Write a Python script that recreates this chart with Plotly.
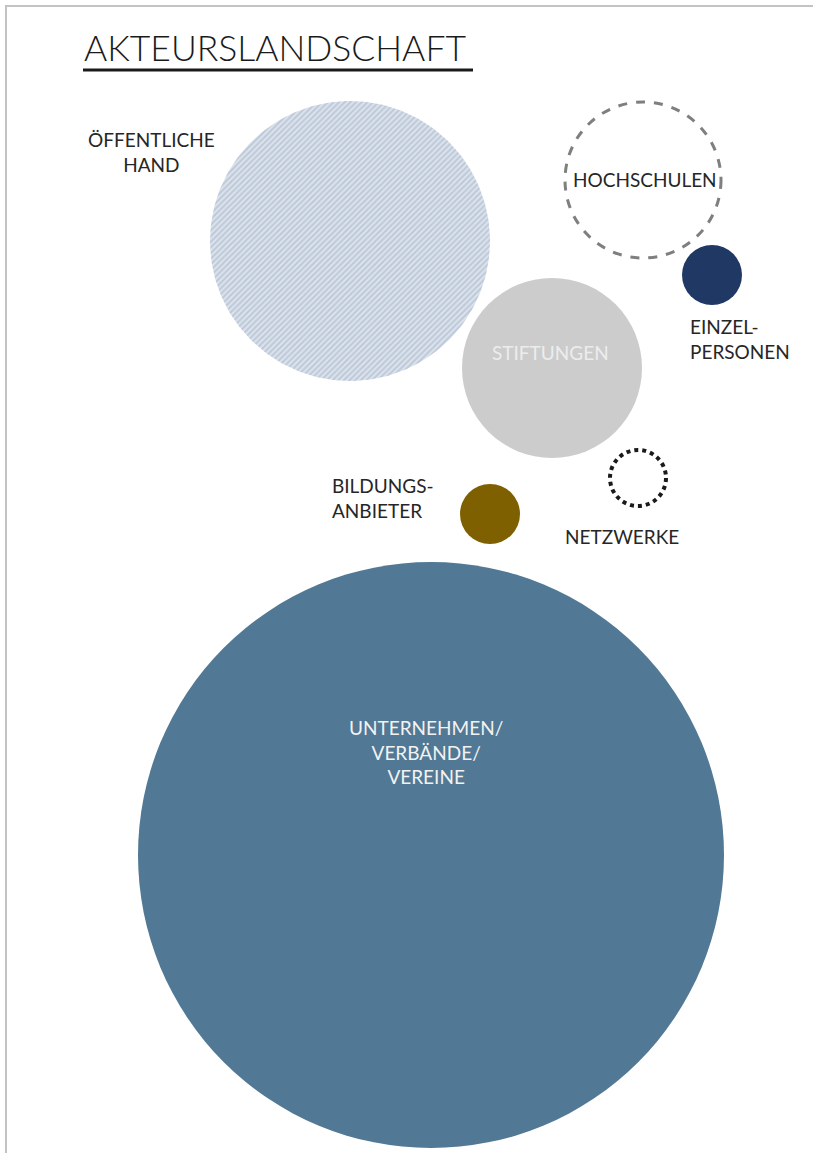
import numpy as np
import plotly.graph_objects as go

# ---- data ----
actors = ["Öffentliche Hand", "Hochschulen", "Einzelpersonen", "Stiftungen",
          "Bildungsanbieter", "Netzwerke", "Unternehmen/Verbände/Vereine"]
radii = [140, 78, 30, 90, 30, 28, 293]          # relative bubble size (radius)
labels = ["ÖFFENTLICHE<br>HAND", "HOCHSCHULEN", "EINZEL-<br>PERSONEN", "STIFTUNGEN",
          "BILDUNGS-<br>ANBIETER", "NETZWERKE", "UNTERNEHMEN/<br>VERBÄNDE/<br>VEREINE"]

# ---- layout (positions & styles) ----
cx = [350, 643, 712, 552, 490, 638, 431]
cy = [241, 180, 275, 368, 514, 478, 855]
label_x = [151, 645, 688, 550, 330, 622, 426]
label_y = [152, 179, 339, 352, 498, 536, 752]
label_anchor = ["center", "center", "left", "center", "left", "center", "center"]
label_color = ["#262626", "#262626", "#262626", "#ececec", "#262626", "#262626", "#f2f2f2"]
fills = [None, "rgba(0,0,0,0)", "#1f3864", "#cccccc", "#7f6000", "rgba(0,0,0,0)", "#517894"]
lines = [None, dict(color="#7f7f7f", width=3, dash="dash"), dict(width=0),
         dict(width=0), dict(width=0), dict(color="#1a1a1a", width=4, dash="dot"), dict(width=0)]

FONT = "Lato"
W, H = 813, 1153

fig = go.Figure()

# hatched circle (Öffentliche Hand) as a filled polygon with a pattern
t = np.linspace(0, 2 * np.pi, 241)
fig.add_trace(go.Scatter(
    x=cx[0] + radii[0] * np.cos(t), y=cy[0] + radii[0] * np.sin(t),
    mode="lines", line=dict(width=0, color="#b4c1d2"), fill="toself",
    fillcolor="#d5dce7",
    fillpattern=dict(shape="/", fgcolor="#9eaec4", bgcolor="#dce3ed", size=4, solidity=0.5),
    hoverinfo="skip", showlegend=False))

shapes = []
for i in range(1, len(actors)):
    shapes.append(dict(type="circle", xref="x", yref="y",
                       x0=cx[i] - radii[i], x1=cx[i] + radii[i],
                       y0=cy[i] - radii[i], y1=cy[i] + radii[i],
                       fillcolor=fills[i], line=lines[i], layer="above"))

# frame lines
shapes.append(dict(type="line", xref="x", yref="y", x0=5, x1=W, y0=6, y1=6,
                   line=dict(color="#c3c3c3", width=2)))
shapes.append(dict(type="line", xref="x", yref="y", x0=6, x1=6, y0=5, y1=H,
                   line=dict(color="#c3c3c3", width=2)))
# title underline
shapes.append(dict(type="line", xref="x", yref="y", x0=83, x1=473, y0=70, y1=70,
                   line=dict(color="#1a1a1a", width=3)))

annotations = []
for i in range(len(actors)):
    annotations.append(dict(x=label_x[i], y=label_y[i], xref="x", yref="y",
                            text=labels[i], showarrow=False,
                            xanchor=label_anchor[i], yanchor="middle",
                            align=label_anchor[i],
                            font=dict(family=FONT, size=19, color=label_color[i])))

annotations.append(dict(x=82, y=47, xref="x", yref="y", text="AKTEURSLANDSCHAFT",
                        showarrow=False, xanchor="left", yanchor="middle",
                        font=dict(family=FONT, size=35.5, color="#1a1a1a", weight=300)))

fig.update_layout(
    width=W, height=H, margin=dict(l=0, r=0, t=0, b=0),
    paper_bgcolor="white", plot_bgcolor="white",
    xaxis=dict(range=[0, W], visible=False, fixedrange=True),
    yaxis=dict(range=[H, 0], visible=False, fixedrange=True),
    shapes=shapes, annotations=annotations, showlegend=False,
)

fig.write_html("out.html", config={"displayModeBar": False},
               post_script="document.body.style.margin='0';document.body.style.overflow='hidden';")
